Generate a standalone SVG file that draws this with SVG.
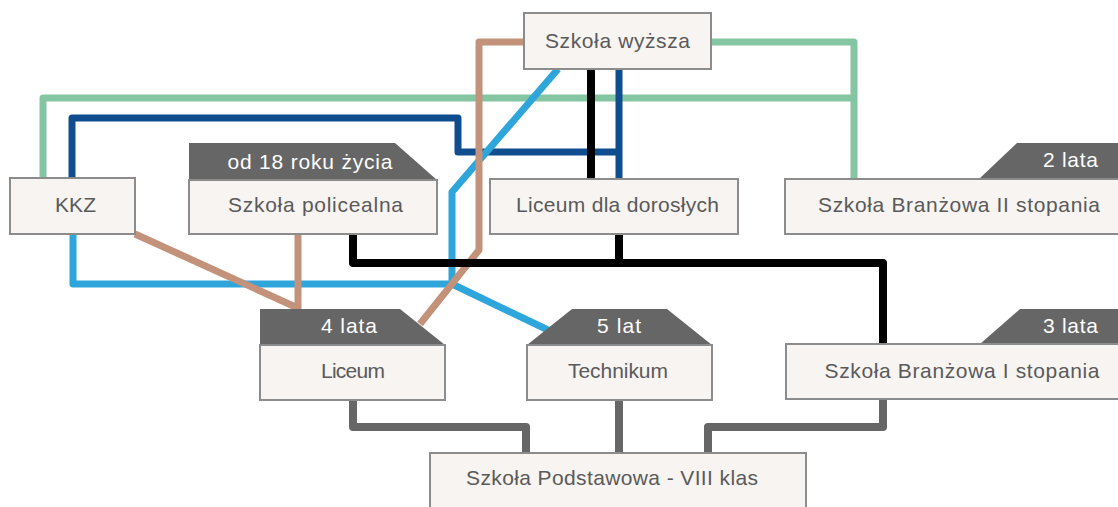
<svg xmlns="http://www.w3.org/2000/svg" width="1118" height="507" viewBox="0 0 1118 507">
<style>
.box{fill:#f7f4f1;stroke:#8c8c8c;stroke-width:2}
.tab{fill:#666666}
.t{font-family:"Liberation Sans",Arial,sans-serif;font-size:21px;fill:#5a5a5a;text-anchor:middle}
.h{font-family:"Liberation Sans",Arial,sans-serif;font-size:21px;fill:#ffffff;text-anchor:middle}
.c{fill:none;stroke-width:7;stroke-linejoin:round;stroke-linecap:butt}
.green{stroke:#84c6a1}
.dblue{stroke:#0f4d8f}
.lblue{stroke:#2ea6dc}
.brown{stroke:#c3927a}
.black{stroke:#000000;stroke-width:8}
.gray{stroke:#666666;stroke-width:8}
</style>
<rect width="1118" height="507" fill="#ffffff"/>
<g id="connectors">
<path class="c green" d="M711,42 H854 V179"/>
<path class="c green" d="M43,178 V98 H854"/>
<path class="c dblue" d="M72,178 V118 H458 V152 H619"/>
<path class="c dblue" d="M619,69 V179"/>
<path class="c lblue" d="M558,69 L452,192 V284 H73 V234"/>
<path class="c lblue" d="M452,284 L548,330"/>
<path class="c brown" d="M524,42 H479 V250 L420,324"/>
<path class="c brown" d="M135,234 L300,309"/>
<path class="c brown" d="M298,234 V309"/>
<path class="c black" d="M591,69 V179"/>
<path class="c black" d="M353,234 V263 H883 V344"/>
<path class="c black" d="M619,234 V263"/>
<path class="c gray" d="M353,400 V427 H526 V453"/>
<path class="c gray" d="M619,400 V453"/>
<path class="c gray" d="M883,399 V427 H708 V453"/>
</g>
<g id="szkola-wyzsza">
<rect class="box" x="524" y="13" width="187" height="56"/>
<text class="t" x="617.5" y="48" textLength="145">Szkoła wyższa</text>
</g>
<g id="kkz">
<rect class="box" x="10" y="178" width="125" height="56"/>
<text class="t" x="75.5" y="212" textLength="41">KKZ</text>
</g>
<g id="szkola-policealna">
<polygon class="tab" points="189,143 395,143 437,180 189,180"/>
<text class="h" x="310" y="169" textLength="165">od 18 roku życia</text>
<rect class="box" x="189" y="180" width="248" height="54"/>
<text class="t" x="315.5" y="212" textLength="175">Szkoła policealna</text>
</g>
<g id="liceum-dla-doroslych">
<rect class="box" x="490" y="179" width="248" height="55"/>
<text class="t" x="617.5" y="212" textLength="203">Liceum dla dorosłych</text>
</g>
<g id="szkola-branzowa-ii">
<polygon class="tab" points="979,179 1017,143 1125,143 1125,179"/>
<text class="h" x="1098" y="167" style="text-anchor:end" textLength="55">2 lata</text>
<rect class="box" x="785" y="179" width="345" height="55"/>
<text class="t" x="959" y="212" textLength="282">Szkoła Branżowa II stopania</text>
</g>
<g id="liceum">
<polygon class="tab" points="260,309 400,309 445,345 260,345"/>
<text class="h" x="349" y="333" textLength="56">4 lata</text>
<rect class="box" x="260" y="345" width="185" height="55"/>
<text class="t" x="353" y="378" textLength="64">Liceum</text>
</g>
<g id="technikum">
<polygon class="tab" points="572,309 667,309 712,345 527,345"/>
<text class="h" x="619" y="333" textLength="44">5 lat</text>
<rect class="box" x="527" y="345" width="185" height="55"/>
<text class="t" x="618" y="378" textLength="100">Technikum</text>
</g>
<g id="szkola-branzowa-i">
<polygon class="tab" points="980,344 1020,309 1125,309 1125,344"/>
<text class="h" x="1098" y="333" style="text-anchor:end" textLength="55">3 lata</text>
<rect class="box" x="786" y="344" width="345" height="55"/>
<text class="t" x="962" y="378" textLength="275">Szkoła Branżowa I stopania</text>
</g>
<g id="szkola-podstawowa">
<rect class="box" x="430" y="453" width="376" height="70"/>
<text class="t" x="612" y="485" textLength="292">Szkoła Podstawowa - VIII klas</text>
</g>
</svg>
